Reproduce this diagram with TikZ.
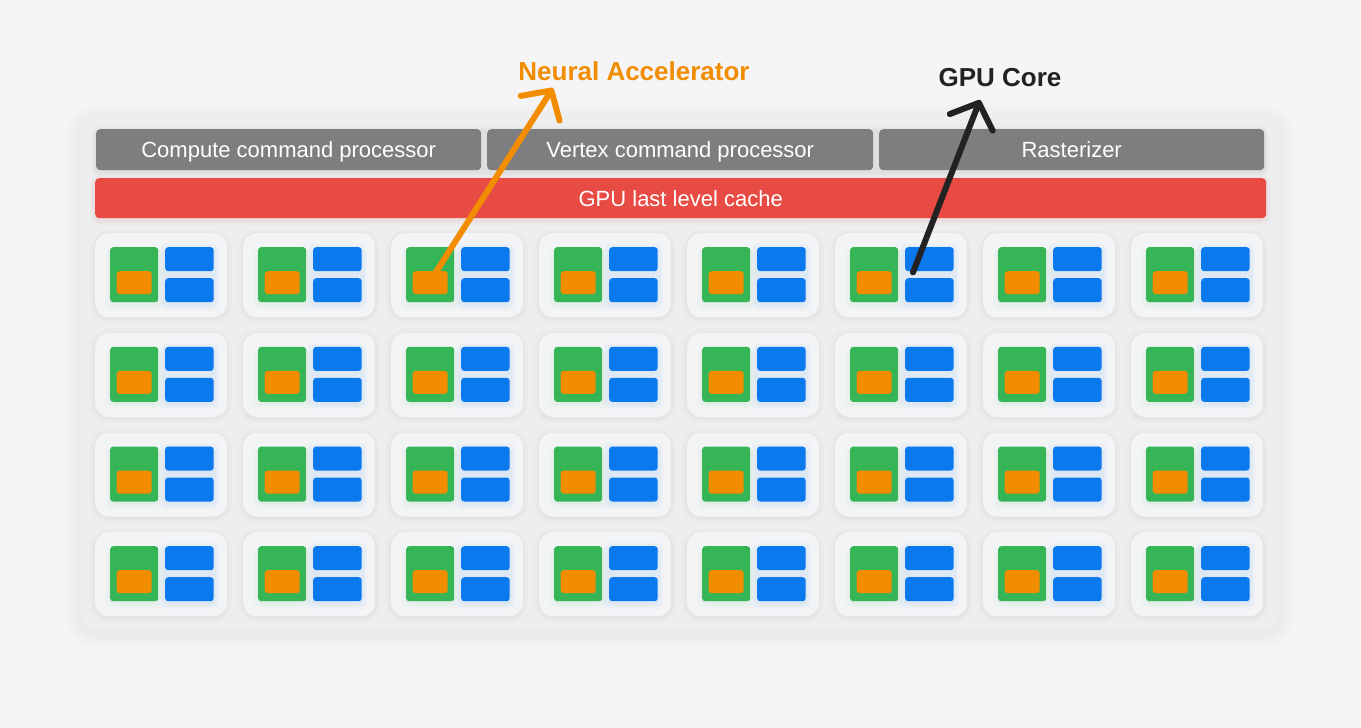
\documentclass[tikz,border=0pt]{standalone}
\usepackage{fontspec}
\setmainfont{Liberation Sans}
\usetikzlibrary{arrows.meta,calc}
\definecolor{bgc}{HTML}{F5F5F7}
\definecolor{panelc}{HTML}{EDEEF0}
\definecolor{tilec}{HTML}{F3F4F6}
\definecolor{barc}{HTML}{7E7E80}
\definecolor{redc}{HTML}{E84B43}
\definecolor{greenc}{HTML}{36B557}
\definecolor{orangec}{HTML}{F28C00}
\definecolor{bluec}{HTML}{0A79EE}
\definecolor{inkc}{HTML}{222222}
\begin{document}
\begin{tikzpicture}[x=1pt,y=-1pt,
  panel/.style={draw=none,fill=panelc,rounded corners=18pt,inner sep=0pt},
  bar/.style={fill=barc,rounded corners=4pt,inner sep=0pt,minimum height=41pt,
    text=white,font=\fontsize{22}{26}\selectfont,text height=15.8pt,text depth=0pt},
  cachebar/.style={bar,fill=redc,minimum height=40pt},
  tile/.style={fill=tilec,rounded corners=14pt,inner sep=0pt,minimum width=132pt,minimum height=84pt},
  greenbox/.style={fill=greenc,rounded corners=3pt,inner sep=0pt,minimum width=48pt,minimum height=55pt},
  orangebox/.style={fill=orangec,rounded corners=3pt,inner sep=0pt,minimum width=35pt,minimum height=23pt},
  bluebox/.style={fill=bluec,rounded corners=3pt,inner sep=0pt,minimum width=48.5pt,minimum height=24pt},
  callout/.style={font=\bfseries\fontsize{26}{30}\selectfont,inner sep=0pt,text height=18.6pt,text depth=0pt},
  pointer/.style={line width=6pt,line cap=round,line join=round,
    -{Straight Barb[round,length=21pt,width=46pt]}},
]
\fill[bgc] (0,0) rectangle (1361,728);
\useasboundingbox (0,0) rectangle (1361,728);

% soft panel shadow
\foreach \e in {3,6,9,12,15}{
  \fill[black,opacity=0.008,rounded corners={18+\e}] ({80-\e},{115-\e+4}) rectangle ({1280+\e},{630+\e+4});
}
\node[panel,anchor=north west,minimum width=1200pt,minimum height=515pt] (panel) at (80,115) {};

% soft bar shadows
\foreach \e in {1.5,3,4.5}{
  \fill[black,opacity=0.02,rounded corners={4+\e}] ({96-\e},{129-\e+2}) rectangle ({1264+\e},{170+\e+2});
  \fill[redc,opacity=0.03,rounded corners={4+\e}] ({95-\e},{178-\e+2}) rectangle ({1266+\e},{218+\e+2});
}
\node[bar,anchor=north west,minimum width=385pt] (ccp) at (96,129) {Compute command processor};
\node[bar,anchor=north west,minimum width=386pt] (vcp) at (487,129) {Vertex command processor};
\node[bar,anchor=north west,minimum width=385pt] (rast) at (879,129) {Rasterizer};
\node[cachebar,anchor=north west,minimum width=1171pt] (llc) at (95,178) {GPU last level cache};

\foreach \c in {0,...,7}{
  \foreach \r in {0,...,3}{
    \pgfmathsetmacro{\tx}{95+148*\c}
    \pgfmathsetmacro{\ty}{233+99.67*\r}
    \foreach \e in {1.5,3,5}{
      \fill[black,opacity=0.012,rounded corners={14+\e}] ({\tx-\e},{\ty-\e+1.5}) rectangle ({\tx+132+\e},{\ty+84+\e+1.5});
    }
    \node[tile,anchor=north west] (t\c\r) at (\tx,\ty) {};
    % soft glows
    \foreach \e/\op in {6/0.02,4/0.03,2/0.04}{
      \fill[bluec,opacity=\op,rounded corners=5pt]
        ($(t\c\r.north west)+(70-\e,14-\e+2)$) rectangle ($(t\c\r.north west)+(118.5+\e,69+\e+2)$);
      \fill[greenc,opacity=\op,rounded corners=5pt]
        ($(t\c\r.north west)+(15-\e+1,14+2)$) rectangle ($(t\c\r.north west)+(63+\e-1,69+\e+1)$);
    }
    \node[greenbox,anchor=north west] (g\c\r) at ($(t\c\r.north west)+(15,14)$) {};
    \node[orangebox,anchor=north west] (o\c\r) at ($(t\c\r.north west)+(21.5,38)$) {};
    \node[bluebox,anchor=north west] (bt\c\r) at ($(t\c\r.north west)+(70,14)$) {};
    \node[bluebox,anchor=north west] (bb\c\r) at ($(t\c\r.north west)+(70,45)$) {};
  }
}

\node[callout,text=orangec] (nalabel) at (634,71) {Neural Accelerator};
\node[callout,text=inkc] (corelabel) at (1000,77.5) {GPU Core};
\coordinate (natip) at (553,88);
\coordinate (coretip) at (980,100);

\draw[pointer,draw=orangec] ([xshift=5pt,yshift=9.5pt]o20.center) -- (natip);
\draw[pointer,draw=inkc] ([xshift=8pt,yshift=-1pt]bt50.south west) -- (coretip);
\end{tikzpicture}
\end{document}
